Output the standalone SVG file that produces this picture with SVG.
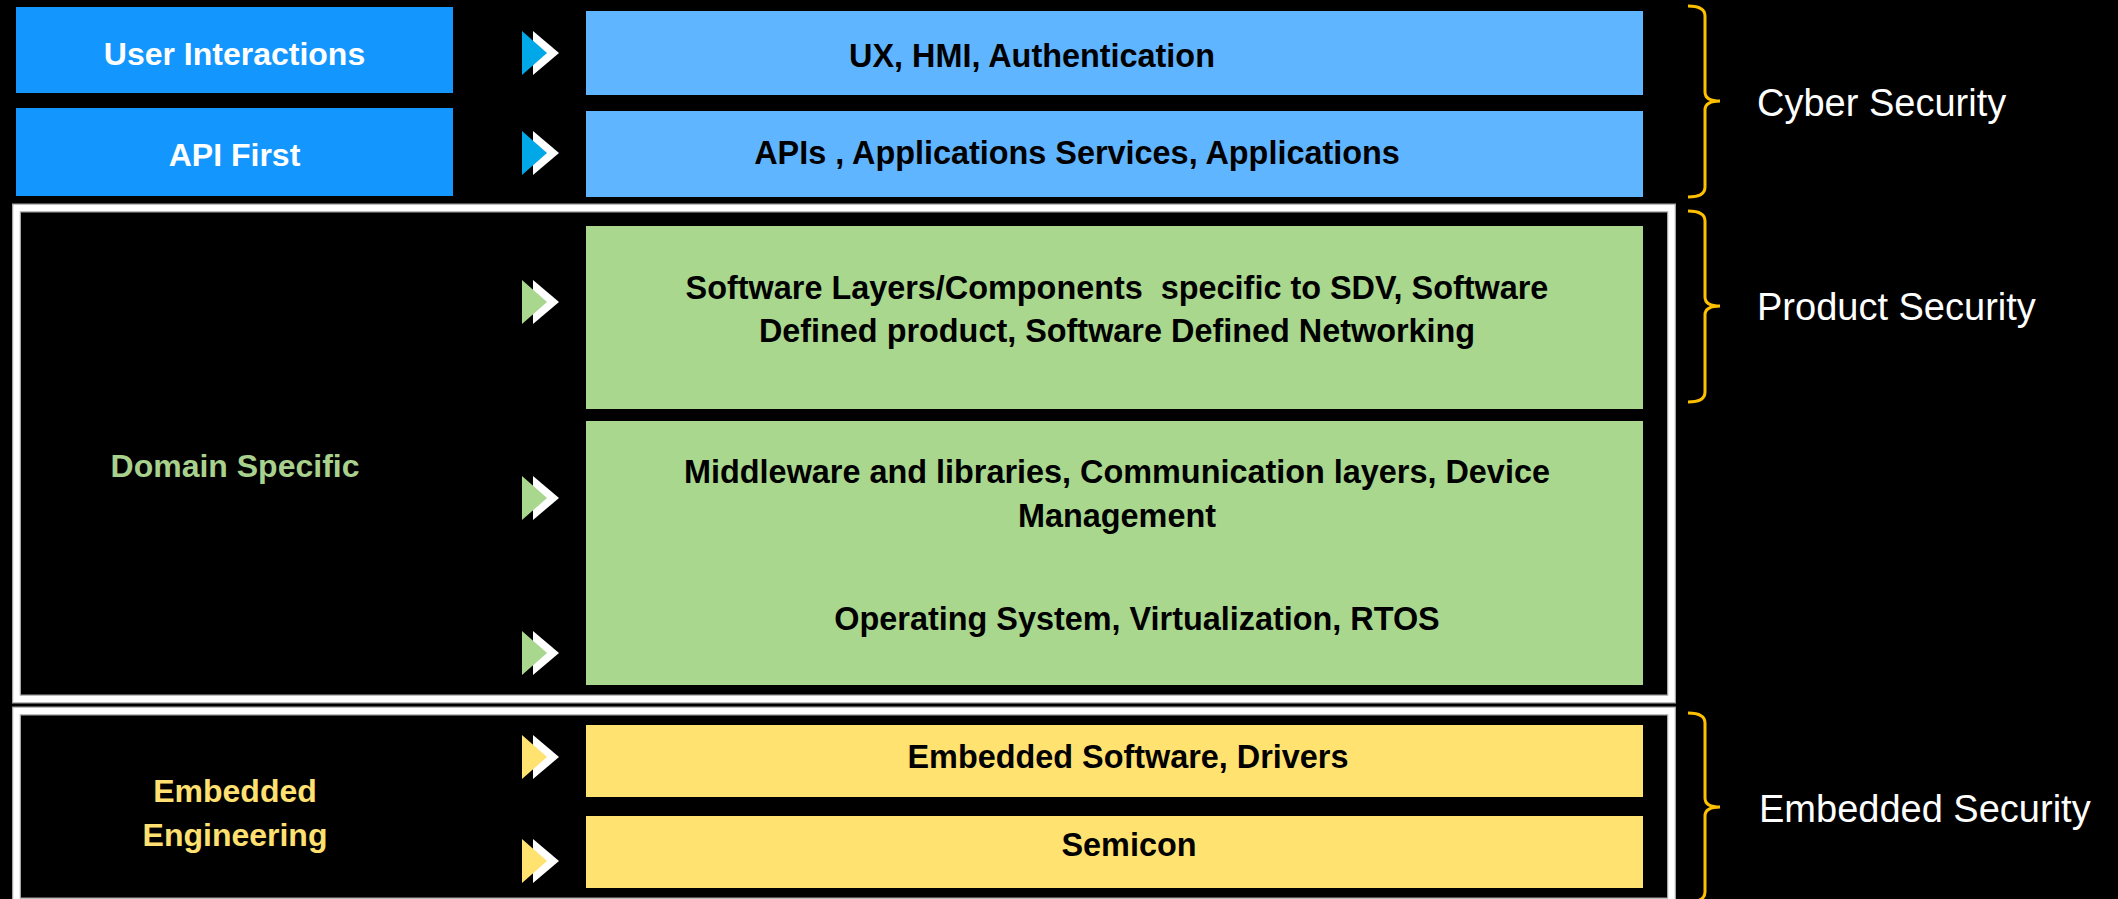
<svg xmlns="http://www.w3.org/2000/svg" width="2118" height="899" viewBox="0 0 2118 899">
<style>
.lbl{font-family:"Liberation Sans",Arial,sans-serif;font-weight:bold;font-size:32px;text-anchor:middle}
.dark{fill:#000;font-size:32.4px}
.white{fill:#fff}
.side{font-family:"Liberation Sans",Arial,sans-serif;font-size:38px;fill:#fff}
.frameOut{fill:none;stroke:#a6a6a6;stroke-width:9}
.frameIn{fill:none;stroke:#fff;stroke-width:6.5}
.brace{fill:none;stroke:#ffc000;stroke-width:3}
</style>
<defs>
<g id="arr">
<polygon points="533,-22 559,0 533,22" fill="#fff"/>
<polygon points="522,-22 547,0 522,22" fill="currentColor"/>
</g>
</defs>
<rect x="0" y="0" width="2118" height="899" fill="#000"/>

<g id="frames">
<rect class="frameOut" x="16.5" y="208" width="1655" height="491"/>
<rect class="frameIn" x="16.5" y="208" width="1655" height="491"/>
<rect class="frameOut" x="16.5" y="711" width="1655" height="191"/>
<rect class="frameIn" x="16.5" y="711" width="1655" height="191"/>
</g>

<g id="user-interactions">
<rect x="16" y="7" width="437" height="86" fill="#1396fe"/>
<text class="lbl white" x="234.5" y="65">User Interactions</text>
</g>
<g id="api-first">
<rect x="16" y="108" width="437" height="88" fill="#1396fe"/>
<text class="lbl white" x="234.5" y="166">API First</text>
</g>
<g id="domain-specific">
<text class="lbl" x="235" y="477" fill="#a9d18e">Domain Specific</text>
</g>
<g id="embedded-engineering">
<text class="lbl" x="235" y="802" fill="#ffe071">Embedded</text>
<text class="lbl" x="235" y="846" fill="#ffe071">Engineering</text>
</g>

<g id="ux">
<rect x="586" y="11" width="1057" height="84" fill="#5fb5ff"/>
<text class="lbl dark" x="1032" y="67">UX, HMI, Authentication</text>
</g>
<g id="apis">
<rect x="586" y="111" width="1057" height="86" fill="#5fb5ff"/>
<text class="lbl dark" x="1077" y="164">APIs , Applications Services, Applications</text>
</g>
<g id="sdv">
<rect x="586" y="226" width="1057" height="183" fill="#a9d78e"/>
<text class="lbl dark" x="1117" y="299" xml:space="preserve">Software Layers/Components  specific to SDV, Software</text>
<text class="lbl dark" x="1117" y="342">Defined product, Software Defined Networking</text>
</g>
<g id="middleware">
<rect x="586" y="421" width="1057" height="264" fill="#a9d78e"/>
<text class="lbl dark" x="1117" y="483">Middleware and libraries, Communication layers, Device</text>
<text class="lbl dark" x="1117" y="527">Management</text>
<text class="lbl dark" x="1137" y="630">Operating System, Virtualization, RTOS</text>
</g>
<g id="embedded-sw">
<rect x="586" y="725" width="1057" height="72" fill="#ffe270"/>
<text class="lbl dark" x="1128" y="768">Embedded Software, Drivers</text>
</g>
<g id="semicon">
<rect x="586" y="816" width="1057" height="72" fill="#ffe270"/>
<text class="lbl dark" x="1129" y="856">Semicon</text>
</g>

<g id="connectors">
<use href="#arr" transform="translate(0,53)" style="color:#00a8e8"/>
<use href="#arr" transform="translate(0,153)" style="color:#00a8e8"/>
<use href="#arr" transform="translate(0,302)" style="color:#a9d78e"/>
<use href="#arr" transform="translate(0,498)" style="color:#a9d78e"/>
<use href="#arr" transform="translate(0,653)" style="color:#a9d78e"/>
<use href="#arr" transform="translate(0,757)" style="color:#ffe270"/>
<use href="#arr" transform="translate(0,861)" style="color:#ffe270"/>
</g>

<g id="cyber-security">
<path class="brace" d="M1688,6 Q1705,6 1705,16 L1705,92 Q1705,101 1720,101 Q1705,101 1705,110 L1705,187 Q1705,197 1688,197"/>
<text class="side" x="1757" y="116">Cyber Security</text>
</g>
<g id="product-security">
<path class="brace" d="M1688,211 Q1705,211 1705,221 L1705,297 Q1705,306 1720,306 Q1705,306 1705,315 L1705,392 Q1705,402 1688,402"/>
<text class="side" x="1757" y="320">Product Security</text>
</g>
<g id="embedded-security">
<path class="brace" d="M1688,713 Q1705,713 1705,723 L1705,798 Q1705,807 1720,807 Q1705,807 1705,816 L1705,892 Q1705,902 1688,902"/>
<text class="side" x="1759" y="822">Embedded Security</text>
</g>
</svg>
